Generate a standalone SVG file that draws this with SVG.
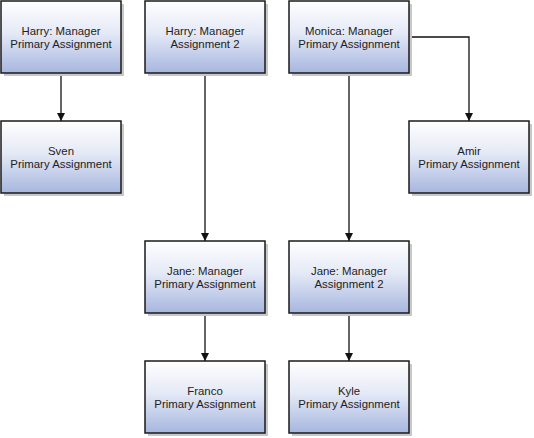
<svg xmlns="http://www.w3.org/2000/svg" width="534" height="438" viewBox="0 0 534 438">
<defs>
<linearGradient id="g" x1="0" y1="0" x2="0" y2="1">
<stop offset="0" stop-color="#ffffff"/>
<stop offset="0.45" stop-color="#e4e9f6"/>
<stop offset="1" stop-color="#a6b6de"/>
</linearGradient>
<marker id="arr" viewBox="0 0 10 10" refX="10" refY="5" markerWidth="8" markerHeight="8" markerUnits="userSpaceOnUse" orient="auto">
<path d="M0,0 L10,5 L0,10 z" fill="#111"/>
</marker>
</defs>
<style>
.sh{fill:#c8c8c8}
.bx{fill:url(#g);stroke:#1a1a1a;stroke-width:1.5}
.t{font-family:"Liberation Sans",Arial,sans-serif;font-size:11.4px;fill:#222;text-anchor:middle}
.c{fill:none;stroke:#111;stroke-width:1.3}
</style>
<rect width="534" height="438" fill="#fff"/>
<g id="connectors">
<path class="c" d="M61,73 V121" marker-end="url(#arr)"/>
<path class="c" d="M205,73 V241" marker-end="url(#arr)"/>
<path class="c" d="M349,73 V241" marker-end="url(#arr)"/>
<path class="c" d="M409,37 H469 V121" marker-end="url(#arr)"/>
<path class="c" d="M205,313 V361" marker-end="url(#arr)"/>
<path class="c" d="M349,313 V361" marker-end="url(#arr)"/>
</g>
<g id="harry1">
<rect class="sh" x="4" y="4" width="120" height="72"/>
<rect class="bx" x="1" y="1" width="120" height="72"/>
<text class="t" x="61" y="35">Harry: Manager</text>
<text class="t" x="61" y="47.5">Primary Assignment</text>
</g>
<g id="harry2">
<rect class="sh" x="148" y="4" width="120" height="72"/>
<rect class="bx" x="145" y="1" width="120" height="72"/>
<text class="t" x="205" y="35">Harry: Manager</text>
<text class="t" x="205" y="47.5">Assignment 2</text>
</g>
<g id="monica">
<rect class="sh" x="292" y="4" width="120" height="72"/>
<rect class="bx" x="289" y="1" width="120" height="72"/>
<text class="t" x="349" y="35">Monica: Manager</text>
<text class="t" x="349" y="47.5">Primary Assignment</text>
</g>
<g id="sven">
<rect class="sh" x="4" y="124" width="120" height="72"/>
<rect class="bx" x="1" y="121" width="120" height="72"/>
<text class="t" x="61" y="155">Sven</text>
<text class="t" x="61" y="167.5">Primary Assignment</text>
</g>
<g id="amir">
<rect class="sh" x="412" y="124" width="120" height="72"/>
<rect class="bx" x="409" y="121" width="120" height="72"/>
<text class="t" x="469" y="155">Amir</text>
<text class="t" x="469" y="167.5">Primary Assignment</text>
</g>
<g id="jane1">
<rect class="sh" x="148" y="244" width="120" height="72"/>
<rect class="bx" x="145" y="241" width="120" height="72"/>
<text class="t" x="205" y="275">Jane: Manager</text>
<text class="t" x="205" y="287.5">Primary Assignment</text>
</g>
<g id="jane2">
<rect class="sh" x="292" y="244" width="120" height="72"/>
<rect class="bx" x="289" y="241" width="120" height="72"/>
<text class="t" x="349" y="275">Jane: Manager</text>
<text class="t" x="349" y="287.5">Assignment 2</text>
</g>
<g id="franco">
<rect class="sh" x="148" y="364" width="120" height="72"/>
<rect class="bx" x="145" y="361" width="120" height="72"/>
<text class="t" x="205" y="395">Franco</text>
<text class="t" x="205" y="407.5">Primary Assignment</text>
</g>
<g id="kyle">
<rect class="sh" x="292" y="364" width="120" height="72"/>
<rect class="bx" x="289" y="361" width="120" height="72"/>
<text class="t" x="349" y="395">Kyle</text>
<text class="t" x="349" y="407.5">Primary Assignment</text>
</g>
</svg>
